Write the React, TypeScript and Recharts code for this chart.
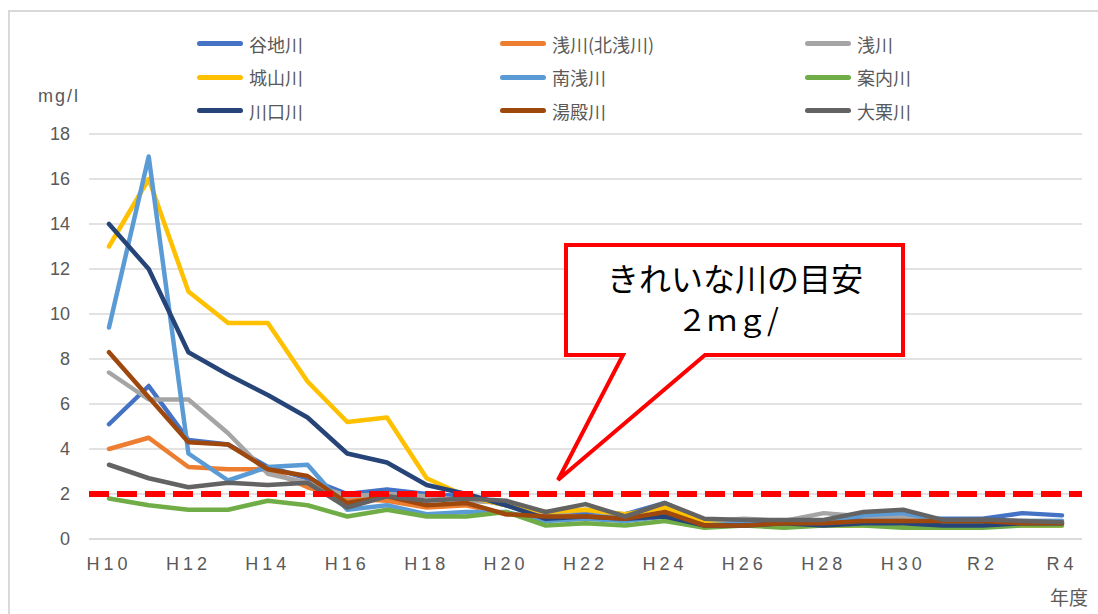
import { LineChart, Line, XAxis, YAxis, CartesianGrid, Legend, ReferenceLine } from 'recharts';

const YEARS = ['H10', 'H11', 'H12', 'H13', 'H14', 'H15', 'H16', 'H17', 'H18', 'H19', 'H20', 'H21', 'H22', 'H23', 'H24', 'H25', 'H26', 'H27', 'H28', 'H29', 'H30', 'R1', 'R2', 'R3', 'R4'];

const YACHI = [5.1, 6.8, 4.4, 4.2, 3.2, 2.7, 2.0, 2.2, 2.0, 1.9, 1.5, 1.1, 1.2, 1.1, 1.6, 0.8, 0.7, 0.7, 0.8, 0.9, 0.9, 0.9, 0.9, 1.15, 1.05];
const ASA_KITA = [4.0, 4.5, 3.2, 3.1, 3.1, 2.3, 1.8, 1.7, 1.4, 1.5, 1.1, 1.0, 1.0, 0.9, 1.1, 0.6, 0.6, 0.7, 0.7, 0.7, 0.7, 0.7, 0.7, 0.7, 0.7];
const ASA = [7.4, 6.2, 6.2, 4.7, 2.9, 2.5, 1.9, 2.0, 1.9, 1.7, 1.6, 1.1, 1.3, 1.0, 1.5, 0.8, 0.9, 0.8, 1.15, 1.0, 1.0, 0.8, 0.8, 0.8, 0.8];
const SHIROYAMA = [13.0, 16.0, 11.0, 9.6, 9.6, 7.0, 5.2, 5.4, 2.7, 1.9, 1.5, 1.2, 1.3, 1.1, 1.4, 0.7, 0.6, 0.6, 0.6, 0.6, 0.6, 0.6, 0.6, 0.6, 0.6];
const MINAMIASA = [9.4, 17.0, 3.8, 2.6, 3.2, 3.3, 1.3, 1.5, 1.1, 1.2, 1.2, 0.8, 0.9, 0.8, 1.0, 0.6, 0.7, 0.7, 0.8, 1.05, 1.15, 0.8, 0.8, 0.8, 0.8];
const ANNAI = [1.8, 1.5, 1.3, 1.3, 1.7, 1.5, 1.0, 1.3, 1.0, 1.0, 1.2, 0.6, 0.7, 0.6, 0.8, 0.5, 0.6, 0.5, 0.6, 0.6, 0.5, 0.5, 0.5, 0.6, 0.6];
const KAWAGUCHI = [14.0, 12.0, 8.3, 7.3, 6.4, 5.4, 3.8, 3.4, 2.4, 2.0, 1.5, 0.9, 1.0, 0.9, 1.0, 0.6, 0.6, 0.7, 0.6, 0.7, 0.7, 0.6, 0.6, 0.7, 0.7];
const YUDONO = [8.3, 6.3, 4.3, 4.2, 3.1, 2.8, 1.6, 1.9, 1.5, 1.6, 1.1, 1.0, 1.0, 0.9, 1.2, 0.6, 0.6, 0.7, 0.7, 0.8, 0.8, 0.8, 0.8, 0.7, 0.7];
const OGURI = [3.3, 2.7, 2.3, 2.5, 2.4, 2.5, 1.4, 1.9, 1.7, 1.8, 1.7, 1.2, 1.55, 1.0, 1.6, 0.9, 0.85, 0.85, 0.85, 1.2, 1.3, 0.85, 0.87, 0.8, 0.75];

const Y_TICKS = [0, 2, 4, 6, 8, 10, 12, 14, 16, 18];

const SERIES = [
  { key: 'yachi', name: '谷地川', color: '#4472C4', values: YACHI },
  { key: 'asakita', name: '浅川(北浅川)', color: '#ED7D31', values: ASA_KITA },
  { key: 'asa', name: '浅川', color: '#A5A5A5', values: ASA },
  { key: 'shiroyama', name: '城山川', color: '#FFC000', values: SHIROYAMA },
  { key: 'minamiasa', name: '南浅川', color: '#5B9BD5', values: MINAMIASA },
  { key: 'annai', name: '案内川', color: '#70AD47', values: ANNAI },
  { key: 'kawaguchi', name: '川口川', color: '#264478', values: KAWAGUCHI },
  { key: 'yudono', name: '湯殿川', color: '#9E480E', values: YUDONO },
  { key: 'oguri', name: '大栗川', color: '#636363', values: OGURI },
];

const data = YEARS.map((year, i) => {
  const row: any = { year };
  SERIES.forEach((s) => { row[s.key] = s.values[i]; });
  return row;
});

const FONT = '"Liberation Sans", Arial, sans-serif';
const JP = '"Noto Sans CJK JP", sans-serif';

// legend keeps the series order (recharts would sort it by name)
const renderLegend = () => (
  <div style={{ display: 'grid', gridTemplateColumns: '303px 305px 240px', paddingLeft: 197 }}>
    {SERIES.map((s) => (
      <div key={s.key} style={{ display: 'flex', alignItems: 'center', height: 33.5 }}>
        <span style={{ display: 'inline-block', width: 46, height: 5, borderRadius: 3, background: s.color, marginRight: 6 }} />
        <span style={{ fontFamily: JP, fontSize: 18, color: '#595959' }}>{s.name}</span>
      </div>
    ))}
  </div>
);

export default function App() {
  return (
    <div style={{ position: 'absolute', left: 0, top: 0, width: 1098, height: 614, background: '#fff', overflow: 'hidden' }}>
      <div style={{ position: 'absolute', left: 8, top: 10, width: 1100, height: 620, border: '2px solid #d9d9d9', boxSizing: 'border-box' }} />
      <LineChart width={1098} height={614} data={data} margin={{ top: 134, right: 16, bottom: 45, left: 0 }}>
        <CartesianGrid vertical={false} stroke="#d9d9d9" strokeWidth={1.5} />
        <XAxis
          dataKey="year"
          height={30}
          interval={1}
          padding={{ left: 20, right: 20 }}
          tickLine={false}
          axisLine={{ stroke: '#d9d9d9', strokeWidth: 1.5 }}
          tickMargin={12}
          tick={{ fill: '#595959', fontSize: 18, fontFamily: FONT, letterSpacing: 4 }}
        />
        <YAxis
          width={89}
          domain={[0, 18]}
          ticks={Y_TICKS}
          tickLine={false}
          axisLine={false}
          tickMargin={13}
          tick={{ fill: '#595959', fontSize: 18, fontFamily: FONT }}
        />
        <Legend
          layout="horizontal"
          verticalAlign="middle"
          align="center"
          content={renderLegend}
          wrapperStyle={{ top: 27, left: 0, width: 1098 }}
        />
        {SERIES.map((s) => (
          <Line
            key={s.key}
            dataKey={s.key}
            name={s.name}
            stroke={s.color}
            strokeWidth={4.5}
            strokeLinecap="round"
            strokeLinejoin="round"
            dot={false}
            isAnimationActive={false}
          />
        ))}
        <ReferenceLine y={2} stroke="#FF0000" strokeWidth={6} strokeDasharray="20 8" />
      </LineChart>
      <div style={{ position: 'absolute', left: 38, top: 86, fontFamily: FONT, fontSize: 18, color: '#595959', letterSpacing: 2 }}>mg/l</div>
      <div style={{ position: 'absolute', left: 1050, top: 583, fontFamily: JP, fontSize: 19, color: '#595959' }}>年度</div>
      <svg width={1098} height={614} style={{ position: 'absolute', left: 0, top: 0, pointerEvents: 'none' }}>
        <path
          d="M566,245 H903 V355 H705 L558,480 L623,355 H566 Z"
          fill="#fff"
          stroke="#FF0000"
          strokeWidth={4}
          strokeLinejoin="miter"
        />
        <text x={735} y={291} textAnchor="middle" fontFamily={JP} fontSize={32} fill="#000">きれいな川の目安</text>
        <text x={728} y={331} textAnchor="middle" fontFamily={JP} fontSize={30} fill="#000">２ｍｇ/</text>
      </svg>
    </div>
  );
}
